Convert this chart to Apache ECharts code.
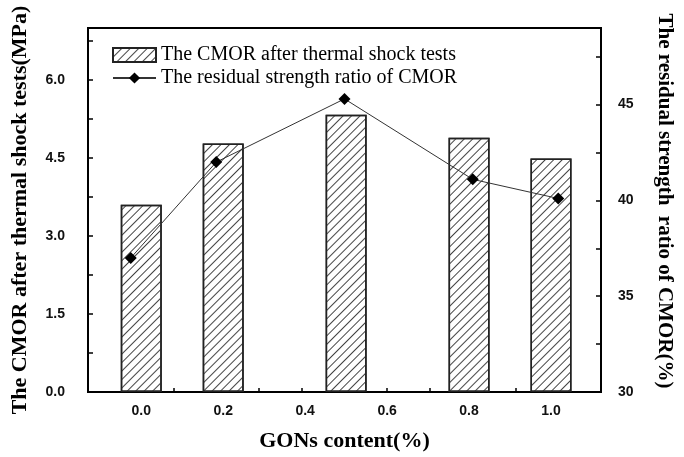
<!DOCTYPE html>
<html>
<head>
<meta charset="utf-8">
<script src="https://cdn.jsdelivr.net/npm/echarts@6/dist/echarts.min.js"></script>
<style>
  html, body { margin: 0; padding: 0; background: #fff; }
  #chart { width: 684px; height: 457px; }
</style>
</head>
<body>
<div id="chart"></div>
<script>
// GONs content (%)
var gonsContent = [0.0, 0.2, 0.5, 0.8, 1.0];
// CMOR after thermal shock tests (MPa)
var cmorValues = [3.6, 4.78, 5.33, 4.89, 4.49];
// residual strength ratio of CMOR (%)
var ratioValues = [37.0, 42.0, 45.3, 41.1, 40.1];
// x tick labels
var xLabels = [0.0, 0.2, 0.4, 0.6, 0.8, 1.0];

var serif = 'Liberation Serif';
var sans = 'Liberation Sans';

var chart = echarts.init(document.getElementById('chart'));

function onStep(v, step) {
  return Math.abs(v / step - Math.round(v / step)) < 1e-6;
}

var option = {
  animation: false,
  backgroundColor: '#fff',
  grid: {
    left: 88, top: 28, right: 83, bottom: 65,
    show: true, borderColor: '#000', borderWidth: 2
  },
  legend: {
    orient: 'vertical',
    left: 107, top: 40,
    itemWidth: 43, itemHeight: 14, itemGap: 3,
    textStyle: { fontFamily: serif, fontSize: 20, color: '#000' },
    data: [
      { name: 'The CMOR after thermal shock tests', icon: 'rect' },
      { name: 'The residual strength ratio of CMOR' }
    ]
  },
  xAxis: [
    {
      // tick axis
      type: 'value', min: -0.1, max: 1.1, interval: 0.1,
      position: 'bottom',
      axisLine: { onZero: false, lineStyle: { color: '#000', width: 2 } },
      axisTick: { inside: true, length: 4, lineStyle: { color: '#000', width: 1.5 } },
      axisLabel: { show: false },
      splitLine: { show: false }
    },
    {
      // label axis for bars
      type: 'value', min: -0.13, max: 1.122,
      position: 'bottom',
      axisLine: { show: false, onZero: false },
      axisTick: { show: false },
      axisLabel: {
        margin: 12, fontFamily: sans, fontWeight: 'bold', fontSize: 14, color: '#111',
        customValues: xLabels,
        formatter: function (v) { return v.toFixed(1); }
      },
      splitLine: { show: false },
      name: 'GONs content(%)',
      nameLocation: 'middle', nameGap: 38,
      nameTextStyle: { fontFamily: serif, fontWeight: 'bold', fontSize: 22, color: '#000' }
    }
  ],
  yAxis: [
    {
      type: 'value', min: 0, max: 7, interval: 0.75,
      position: 'left',
      axisLine: { show: true, onZero: false, lineStyle: { color: '#000', width: 2 } },
      axisTick: { show: true, inside: true, length: 5, lineStyle: { color: '#000', width: 1.5 } },
      axisLabel: {
        margin: 23, fontFamily: sans, fontWeight: 'bold', fontSize: 14, color: '#111',
        showMaxLabel: false,
        formatter: function (v) { return onStep(v, 1.5) ? v.toFixed(1) : ''; }
      },
      splitLine: { show: false },
      name: 'The CMOR after thermal shock tests(MPa)',
      nameLocation: 'middle', nameRotate: 90, nameGap: 57,
      nameTextStyle: { fontFamily: serif, fontWeight: 'bold', fontSize: 22, color: '#000' }
    },
    {
      type: 'value', min: 30, max: 49, interval: 2.5,
      position: 'right',
      axisLine: { show: true, onZero: false, lineStyle: { color: '#000', width: 2 } },
      axisTick: { show: true, inside: true, length: 5, lineStyle: { color: '#000', width: 1.5 } },
      axisLabel: {
        margin: 17, fontFamily: sans, fontWeight: 'bold', fontSize: 14, color: '#111',
        showMaxLabel: false,
        formatter: function (v) { return onStep(v, 5) ? String(v) : ''; }
      },
      splitLine: { show: false },
      name: 'The residual strength  ratio of CMOR(%)',
      nameLocation: 'middle', nameRotate: -90, nameGap: 53,
      nameTextStyle: {
        fontFamily: serif, fontWeight: 'bold', fontSize: 21, color: '#000',
        padding: [0, 18, 0, 0]
      }
    }
  ],
  series: [
    {
      name: 'The CMOR after thermal shock tests',
      type: 'bar',
      xAxisIndex: 1, yAxisIndex: 0,
      barWidth: 41,
      data: gonsContent.map(function (x, i) { return [x, cmorValues[i]]; }),
      itemStyle: {
        color: '#fff', borderColor: '#222', borderWidth: 1.5,
        decal: {
          symbol: 'rect', symbolSize: 1,
          dashArrayX: [1, 0], dashArrayY: [1, 5],
          rotation: -Math.PI / 4,
          color: '#444'
        }
      }
    },
    {
      name: 'The residual strength ratio of CMOR',
      type: 'line',
      xAxisIndex: 0, yAxisIndex: 1,
      data: gonsContent.map(function (x, i) { return [x, ratioValues[i]]; }),
      symbol: 'diamond', symbolSize: 12,
      lineStyle: { color: '#333', width: 1 },
      itemStyle: { color: '#000' }
    }
  ]
};

chart.setOption(option);
</script>
</body>
</html>
